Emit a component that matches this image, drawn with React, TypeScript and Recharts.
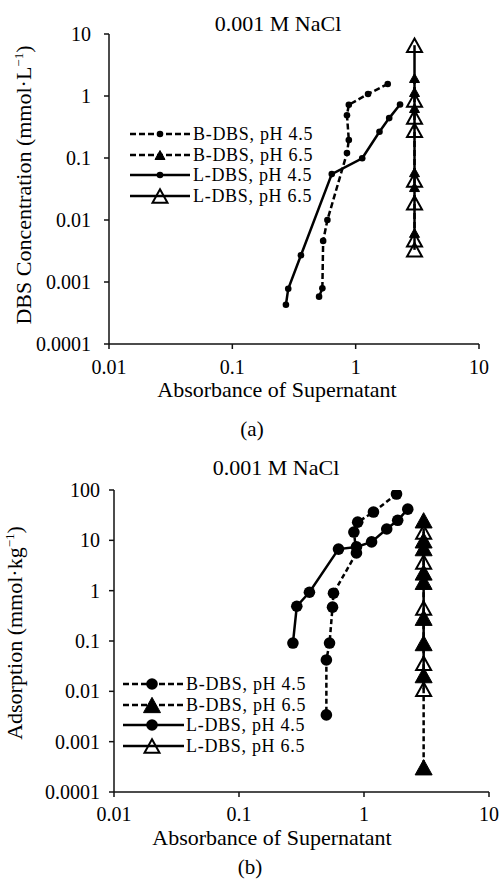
import { LineChart, Line, XAxis, YAxis } from "recharts";

const FONT = "Liberation Serif, Times New Roman, serif";

// shared tick labels
const ABS_TICKS = [0.01, 0.1, 1, 10];
const CONC_TICKS = [0.0001, 0.001, 0.01, 0.1, 1, 10];
const ADS_TICKS = [0.0001, 0.001, 0.01, 0.1, 1, 10, 100];

const SERIES_NAMES = ["B-DBS, pH 4.5", "B-DBS, pH 6.5", "L-DBS, pH 4.5", "L-DBS, pH 6.5"];

// (a) DBS concentration vs absorbance
const aB45Abs = [1.82, 1.26, 0.88, 0.85, 0.88, 0.85, 0.59, 0.545, 0.537, 0.505];
const aB45Conc = [1.56, 1.08, 0.72, 0.49, 0.195, 0.12, 0.01, 0.0046, 0.00079, 0.00058];
const aL45Abs = [2.29, 1.87, 1.56, 1.13, 0.64, 0.36, 0.284, 0.272];
const aL45Conc = [0.73, 0.44, 0.265, 0.099, 0.055, 0.0027, 0.00078, 0.00043];
const aB65Abs = [3, 3, 3, 3, 3, 3];
const aB65Conc = [1.95, 1.16, 0.64, 0.059, 0.034, 0.0062];
const aL65Abs = [3, 3, 3, 3, 3, 3, 3, 3];
const aL65Conc = [6.6, 0.86, 0.46, 0.28, 0.044, 0.019, 0.0048, 0.0033];

// (b) adsorption vs absorbance
const bB45Abs = [1.82, 1.19, 0.89, 0.83, 0.87, 0.57, 0.56, 0.53, 0.5, 0.5];
const bB45Ads = [83, 36.5, 23, 14.6, 5.6, 0.89, 0.47, 0.091, 0.042, 0.0034];
const bL45Abs = [2.24, 1.86, 1.52, 1.15, 0.87, 0.625, 0.366, 0.29, 0.27];
const bL45Ads = [41.6, 25, 16.8, 9.3, 7.4, 6.7, 0.93, 0.49, 0.091];
const bB65Abs = [3, 3, 3, 3, 3, 3, 3, 3, 3];
const bB65Ads = [25, 10, 7, 2.3, 1.5, 0.29, 0.091, 0.021, 0.00031];
const bL65Abs = [3, 3, 3, 3, 3];
const bL65Ads = [14.6, 3.7, 0.45, 0.036, 0.011];

const pts = (xs: number[], ys: number[]) => xs.map((x, i) => ({ x, y: ys[i] }));

type Marker = { kind: "circle" | "tri"; size: number; filled: boolean };

function MarkerShape({ cx, cy, m }: { cx: number; cy: number; m: Marker }) {
  if (cx == null || cy == null) return null;
  if (m.kind === "circle") {
    return <circle cx={cx} cy={cy} r={m.size} fill="#000" stroke="none" />;
  }
  const w = m.size;
  const h = m.size * 0.9;
  const d = `M${cx},${cy - h / 2} L${cx + w / 2},${cy + h / 2} L${cx - w / 2},${cy + h / 2} Z`;
  return (
    <path
      d={d}
      fill={m.filled ? "#000" : "none"}
      stroke="#000"
      strokeWidth={m.filled ? 1 : 2}
      strokeLinejoin="miter"
    />
  );
}

const dotFn = (m: Marker) => (p: any) => <MarkerShape key={`d-${p.index}`} cx={p.cx} cy={p.cy} m={m} />;

const tickStyle = { fontSize: 20, fill: "#000", fontFamily: FONT, style: { fontFamily: FONT } };

// hand-drawn legend, rows placed like the original
function LegendBox({ top, gap, markers, lineX1, lineX2, markX, textLeft }: any) {
  const dashes = [true, true, false, false];
  return (
    <div style={{ position: "absolute", left: 0, top: 0 }}>
      {SERIES_NAMES.map((name, i) => (
        <div key={name} style={{ position: "absolute", left: 0, top: top + i * gap - 10, height: 20, width: 330 }}>
          <svg width={textLeft} height={20} style={{ position: "absolute", left: 0, top: 0, overflow: "visible" }}>
            <line
              x1={lineX1}
              x2={lineX2}
              y1={10}
              y2={10}
              stroke="#000"
              strokeWidth={2.5}
              strokeDasharray={dashes[i] ? "6 3" : undefined}
            />
            <MarkerShape cx={markX} cy={10} m={markers[i]} />
          </svg>
          <span
            style={{
              position: "absolute",
              left: textLeft,
              top: 0,
              lineHeight: "20px",
              fontSize: 18,
              letterSpacing: 0.7,
              whiteSpace: "nowrap",
            }}
          >
            {name}
          </span>
        </div>
      ))}
    </div>
  );
}

const aMarkers: Marker[] = [
  { kind: "circle", size: 3.3, filled: true },
  { kind: "tri", size: 10, filled: true },
  { kind: "circle", size: 3.3, filled: true },
  { kind: "tri", size: 15, filled: false },
];
const bMarkers: Marker[] = [
  { kind: "circle", size: 5.8, filled: true },
  { kind: "tri", size: 17, filled: true },
  { kind: "circle", size: 5.8, filled: true },
  { kind: "tri", size: 15, filled: false },
];

const label = (text: string, x: number, y: number, size = 22) => (
  <div
    style={{
      position: "absolute",
      left: x,
      top: y,
      transform: "translate(-50%, -50%)",
      fontSize: size,
      lineHeight: "22px",
      whiteSpace: "nowrap",
    }}
  >
    {text}
  </div>
);

const axisLineStyle = { stroke: "#111", strokeWidth: 1.5 };

export default function App() {
  return (
    <div
      style={{
        position: "absolute",
        left: 0,
        top: 0,
        width: 502,
        height: 883,
        background: "#fff",
        fontFamily: FONT,
        color: "#000",
        overflow: "hidden",
      }}
    >
      {/* chart (a) */}
      <div style={{ position: "absolute", left: 0, top: 0 }}>
        <LineChart width={502} height={440} margin={{ top: 34, right: 23, bottom: 56, left: 0 }}>
          <XAxis
            type="number"
            dataKey="x"
            scale="log"
            domain={[0.01, 10]}
            ticks={ABS_TICKS}
            allowDataOverflow
            height={40}
            tickSize={5}
            tickMargin={11}
            tick={tickStyle}
            axisLine={axisLineStyle}
            tickLine={axisLineStyle}
            tickFormatter={(v: number) => String(v)}
          />
          <YAxis
            type="number"
            dataKey="y"
            scale="log"
            domain={[0.0001, 10]}
            ticks={CONC_TICKS}
            allowDataOverflow
            width={109}
            tickSize={5}
            tickMargin={13}
            tick={tickStyle}
            axisLine={axisLineStyle}
            tickLine={axisLineStyle}
            tickFormatter={(v: number) => String(v)}
          />
          <Line data={pts(aB45Abs, aB45Conc)} dataKey="y" stroke="#000" strokeWidth={2.5} strokeDasharray="6 3" dot={dotFn(aMarkers[0])} isAnimationActive={false} />
          <Line data={pts(aL45Abs, aL45Conc)} dataKey="y" stroke="#000" strokeWidth={2.5} dot={dotFn(aMarkers[2])} isAnimationActive={false} />
          <Line data={pts(aB65Abs, aB65Conc)} dataKey="y" stroke="#000" strokeWidth={2.5} strokeDasharray="6 3" dot={dotFn(aMarkers[1])} isAnimationActive={false} />
          <Line data={pts(aL65Abs, aL65Conc)} dataKey="y" stroke="#000" strokeWidth={2.5} dot={dotFn(aMarkers[3])} isAnimationActive={false} />
        </LineChart>
      </div>
      {label("0.001 M NaCl", 278, 24)}
      {label("Absorbance of Supernatant", 277, 390)}
      {label("(a)", 252, 429, 21)}
      <div
        style={{
          position: "absolute",
          left: 24,
          top: 185,
          transform: "translate(-50%, -50%) rotate(-90deg)",
          fontSize: 22,
          whiteSpace: "nowrap",
          lineHeight: "24px",
        }}
      >
        DBS Concentration (mmol·L<sup style={{ fontSize: 13, lineHeight: 0 }}>−1</sup>)
      </div>
      <LegendBox top={134} gap={20.7} markers={aMarkers} lineX1={130} lineX2={190} markX={160} textLeft={193} />

      {/* chart (b) */}
      <div style={{ position: "absolute", left: 0, top: 440 }}>
        <LineChart width={502} height={443} margin={{ top: 50, right: 13, bottom: 51, left: 0 }}>
          <XAxis
            type="number"
            dataKey="x"
            scale="log"
            domain={[0.01, 10]}
            ticks={ABS_TICKS}
            allowDataOverflow
            height={40}
            tickSize={5}
            tickMargin={10}
            tick={tickStyle}
            axisLine={axisLineStyle}
            tickLine={axisLineStyle}
            tickFormatter={(v: number) => String(v)}
          />
          <YAxis
            type="number"
            dataKey="y"
            scale="log"
            domain={[0.0001, 100]}
            ticks={ADS_TICKS}
            allowDataOverflow
            width={114}
            tickSize={5}
            tickMargin={9}
            tick={tickStyle}
            axisLine={axisLineStyle}
            tickLine={axisLineStyle}
            tickFormatter={(v: number) => String(v)}
          />
          <Line data={pts(bB45Abs, bB45Ads)} dataKey="y" stroke="#000" strokeWidth={2.5} strokeDasharray="5 3" dot={dotFn(bMarkers[0])} isAnimationActive={false} />
          <Line data={pts(bL45Abs, bL45Ads)} dataKey="y" stroke="#000" strokeWidth={2.5} dot={dotFn(bMarkers[2])} isAnimationActive={false} />
          <Line data={pts(bB65Abs, bB65Ads)} dataKey="y" stroke="#000" strokeWidth={2.5} strokeDasharray="5 3" dot={dotFn(bMarkers[1])} isAnimationActive={false} />
          <Line data={pts(bL65Abs, bL65Ads)} dataKey="y" stroke="#000" strokeWidth={2.5} dot={dotFn(bMarkers[3])} isAnimationActive={false} />
        </LineChart>
      </div>
      {label("0.001 M NaCl", 276, 468)}
      {label("Absorbance of Supernatant", 272, 838)}
      {label("(b)", 250, 867, 21)}
      <div
        style={{
          position: "absolute",
          left: 15,
          top: 633,
          transform: "translate(-50%, -50%) rotate(-90deg)",
          fontSize: 22,
          whiteSpace: "nowrap",
          lineHeight: "24px",
        }}
      >
        Adsorption (mmol·kg<sup style={{ fontSize: 13, lineHeight: 0 }}>−1</sup>)
      </div>
      <LegendBox top={684} gap={20.7} markers={bMarkers} lineX1={123} lineX2={184} markX={152} textLeft={186} />
    </div>
  );
}
